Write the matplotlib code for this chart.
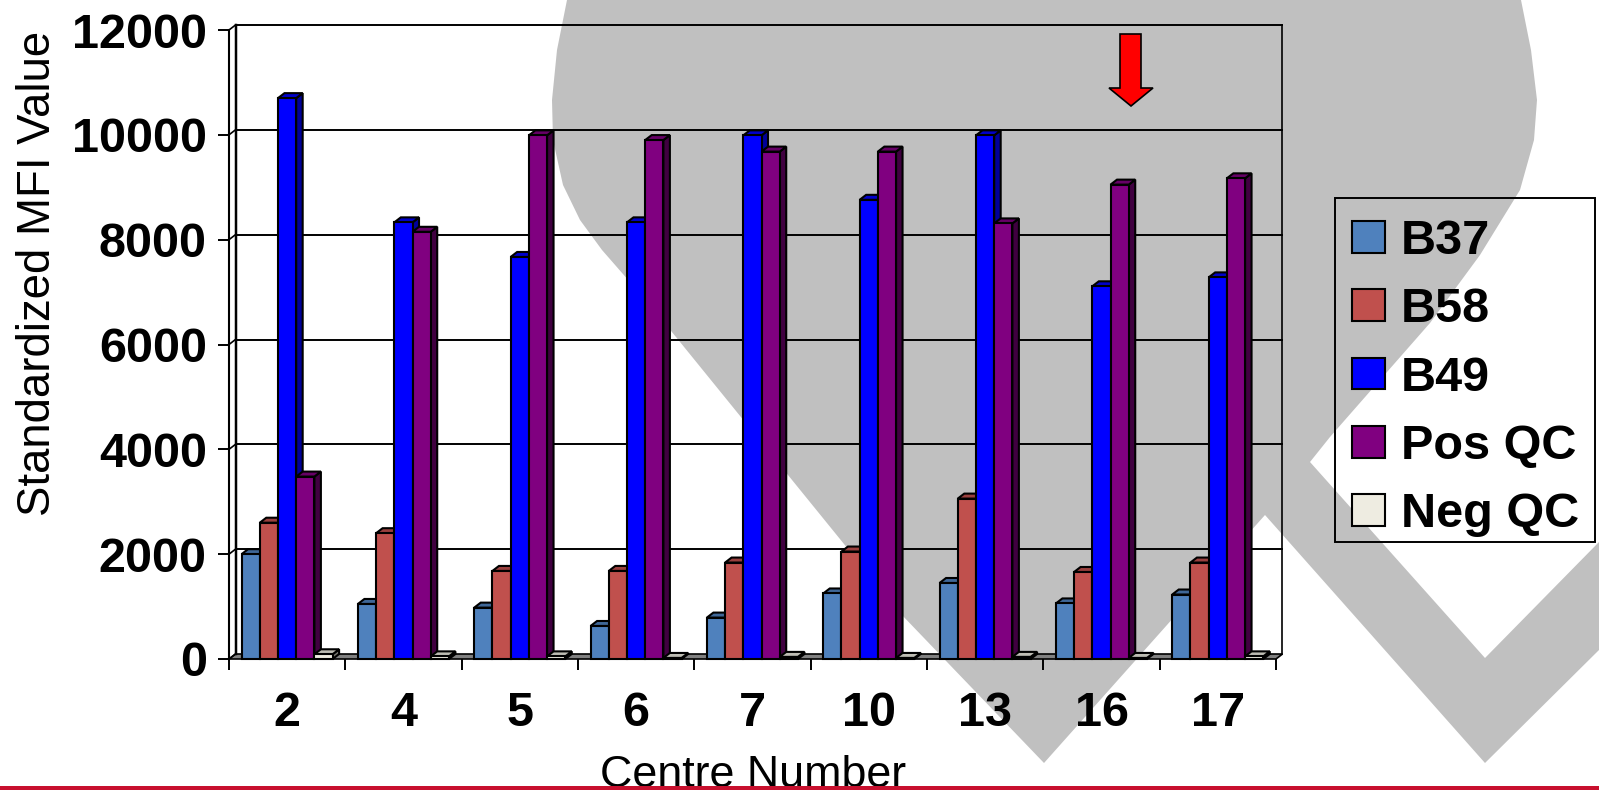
import matplotlib
matplotlib.use('Agg')
import matplotlib.pyplot as plt
from matplotlib.patches import Patch, Polygon, Rectangle

plt.rcParams['font.family'] = ['Liberation Sans', 'DejaVu Sans']

# Data
centres = ['2', '4', '5', '6', '7', '10', '13', '16', '17']
b37 = [2000, 1050, 980, 630, 790, 1250, 1450, 1060, 1230]
b58 = [2600, 2400, 1680, 1680, 1840, 2050, 3060, 1660, 1840]
b49 = [10700, 8330, 7670, 8330, 9990, 8760, 9990, 7110, 7280]
pos_qc = [3480, 8150, 9990, 9900, 9680, 9680, 8310, 9050, 9170]
neg_qc = [90, 50, 50, 20, 40, 20, 40, 20, 50]
series_names = ['B37', 'B58', 'B49', 'Pos QC', 'Neg QC']
y_ticks = [0, 2000, 4000, 6000, 8000, 10000, 12000]

# front, side and top colours of each series
front_colors = ['#4F81BD', '#C0504D', '#0000FF', '#800080', '#EEECE1']
side_colors = ['#3A6090', '#8F3B39', '#000099', '#400040', '#77766F']
top_colors = ['#3F6797', '#9A403E', '#0000CC', '#660066', '#BEBDB4']

# Background watermark, in pixels of the image
mark_x = [567, 557, 552, 553, 563, 580, 602, 650, 900, 1044, 1265, 1485, 1599, 1599, 1485,
          1310, 1330, 1430, 1480, 1520, 1534, 1537, 1531, 1521]
mark_y = [0, 50, 100, 140, 185, 220, 250, 305, 613, 763, 515, 763, 650, 542, 658,
          462, 437, 323, 255, 190, 140, 100, 50, 0]
arrow_x = [1120, 1141, 1141, 1153, 1131, 1109, 1120]
arrow_y = [34, 34, 88, 88, 106, 88, 88]

W, H = 1599, 790
fig = plt.figure(figsize=(W / 100, H / 100), dpi=100, facecolor='white')

bg = fig.add_axes([0, 0, 1, 1], zorder=0)
bg.set_xlim(0, W)
bg.set_ylim(H, 0)
bg.axis('off')
bg.add_patch(Polygon(list(zip(mark_x, mark_y)), closed=True, fc='#C0C0C0', ec='none'))

# Front plane of the chart
left, right, top, bottom = 229, 1276, 30, 659
ax = fig.add_axes([left / W, 1 - bottom / H, (right - left) / W, (bottom - top) / H],
                  zorder=1)
ax.patch.set_alpha(0)
ax.set_xlim(0, len(centres))
ax.set_ylim(0, 12000)
for s in ax.spines.values():
    s.set_visible(False)

# depth of the fake 3D, in data units
dx = 6.5 / ((right - left) / len(centres))
dy = 5 / ((bottom - top) / 12000)
n = len(centres)
lw = 1.2
bar_lw = 1.5

# floor and walls
ax.fill([0, n, n + dx, dx], [0, 0, dy, dy], color='#808080', ec='black', lw=lw, clip_on=False)
ax.plot([0, 0], [0, 12000], color='black', lw=lw + 0.3, clip_on=False)
ax.plot([dx, dx], [dy, 12000 + dy], color='black', lw=lw + 0.6, clip_on=False)
ax.plot([n + dx, n + dx], [dy, 12000 + dy], color='black', lw=lw, clip_on=False)
for t in y_ticks:
    ax.plot([0, dx], [t, t + dy], color='black', lw=lw, clip_on=False)
    if t > 0:
        ax.plot([dx, n + dx], [t + dy, t + dy], color='black', lw=lw + 0.2, clip_on=False)

# bars
all_series = [b37, b58, b49, pos_qc, neg_qc]
bar_w = 0.1565
offset = 0.108
for i in range(n):
    for j, vals in enumerate(all_series):
        x0 = i + offset + j * bar_w
        v = vals[i]
        z = 3 + i + j * 0.1
        ax.fill([x0 + bar_w, x0 + bar_w + dx, x0 + bar_w + dx, x0 + bar_w],
                [0, dy, v + dy, v], fc=side_colors[j], ec='black', lw=bar_lw, zorder=z, clip_on=False)
        ax.fill([x0, x0 + dx, x0 + bar_w + dx, x0 + bar_w],
                [v, v + dy, v + dy, v], fc=top_colors[j], ec='black', lw=bar_lw, zorder=z, clip_on=False)
        ax.bar(x0, v, bar_w, align='edge', color=front_colors[j], edgecolor='black',
               linewidth=bar_lw, zorder=z + 0.01, clip_on=False)

# axes ticks and labels
ax.set_yticks(y_ticks)
ax.set_yticklabels([str(t) for t in y_ticks], fontsize=35, fontweight='bold')
ax.tick_params(axis='y', length=8, width=lw + 0.2, pad=8)
ax.set_xticks(range(n + 1))
ax.set_xticklabels([])
ax.tick_params(axis='x', which='major', length=8, width=lw + 0.2)
ax.set_xticks([i + 0.5 for i in range(n)], minor=True)
ax.set_xticklabels(centres, minor=True, fontsize=35, fontweight='bold')
ax.tick_params(axis='x', which='minor', length=0, pad=23)

fig.text(38 / W, 1 - 273 / H, 'Standardized MFI Value', rotation=90, fontsize=32.8,
         ha='center', va='center')
# the red line runs over the foot of this label in the reference
fig.text(753 / W, 1 - 787 / H, 'Centre Number', fontsize=32.3, ha='center', va='baseline')

handles = [Patch(fc=c, ec='black', lw=1.5) for c in front_colors]
leg = fig.legend(handles, series_names, loc='upper left',
                 bbox_to_anchor=(1335 / W, 1 - 202 / H), borderaxespad=0, frameon=False,
                 prop={'size': 35, 'weight': 'bold'}, handlelength=0.68, handleheight=0.62,
                 handletextpad=0.32, labelspacing=0.48, borderpad=0.35)
leg.set_zorder(5)

# overlay with the legend box, the arrow and the red line at the bottom
over = fig.add_axes([0, 0, 1, 1], zorder=6)
over.set_xlim(0, W)
over.set_ylim(H, 0)
over.axis('off')
over.patch.set_alpha(0)
over.add_patch(Rectangle((1335, 198), 260, 344, fc='none', ec='black', lw=1.4))
over.add_patch(Polygon(list(zip(arrow_x, arrow_y)), closed=True, fc='#FF0000', ec='black', lw=1.2))
over.fill_between([0, W], 786, 790, color='#C8102E', lw=0)

fig.savefig('out.png', dpi=100)
